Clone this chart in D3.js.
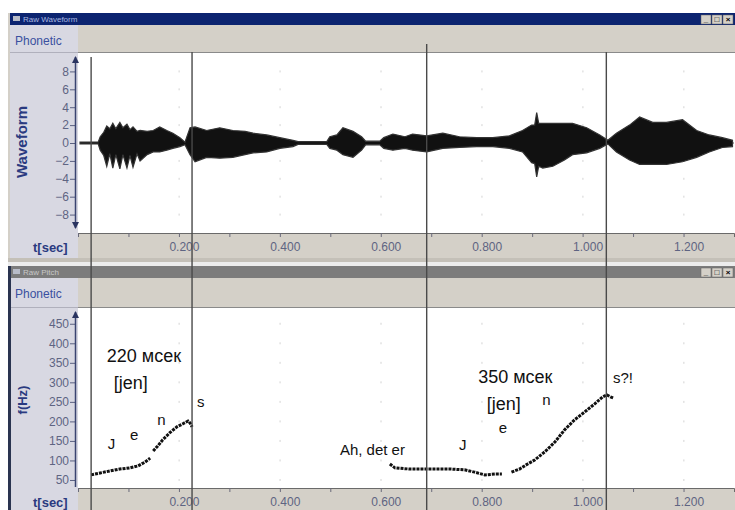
<!DOCTYPE html>
<html>
<head>
<meta charset="utf-8">
<script src="https://cdn.jsdelivr.net/npm/d3@7"></script>
<style>
 body { margin: 0; background: #fff; }
 text { font-family: "Liberation Sans", Arial, sans-serif; }
</style>
</head>
<body>
<script>
'use strict'
// Speech analysis screen: waveform on top, pitch track below, drawn with d3

// waveform envelope (time in sec, amplitude in axis units)
const waveTime = [0.004, 0.040, 0.044, 0.051, 0.057, 0.063, 0.069, 0.075, 0.083, 0.089, 0.097, 0.103, 0.109, 0.117, 0.123,
 0.137, 0.149, 0.162, 0.176, 0.188, 0.202, 0.212, 0.222, 0.232, 0.255, 0.281, 0.307, 0.331, 0.347, 0.374, 0.400, 0.426,
 0.436, 0.493, 0.499, 0.513, 0.525, 0.545, 0.562, 0.570, 0.598, 0.606, 0.624, 0.648, 0.663, 0.691, 0.723, 0.756, 0.790,
 0.822, 0.855, 0.881, 0.899, 0.905, 0.909, 0.913, 0.921, 0.941, 0.964, 0.980, 1.008, 1.034, 1.050, 1.067, 1.093, 1.113,
 1.139, 1.166, 1.198, 1.226, 1.251, 1.277, 1.297];
const waveUpper = [0.1, 0.1, 0.7, 1.2, 1.9, 1.6, 2.2, 1.6, 2.3, 1.7, 2.1, 1.5, 1.8, 1.3, 1.4,
 1.3, 1.4, 1.8, 1.4, 1.1, 0.6, 0.1, 1.7, 1.8, 1.4, 1.7, 1.4, 1.3, 1.1, 0.9, 0.6, 0.3,
 0.15, 0.15, 0.7, 0.9, 1.7, 1.3, 0.7, 0.2, 0.2, 0.6, 1.0, 0.7, 1.0, 0.8, 1.1, 0.7, 0.6,
 0.6, 0.8, 1.4, 2.0, 2.0, 3.4, 2.2, 2.2, 2.2, 2.2, 2.2, 1.7, 0.9, 0.3, 1.1, 2.0, 2.9,
 2.3, 2.3, 2.6, 1.4, 0.9, 0.6, 0.3];
const waveLower = [-0.1, -0.1, -0.8, -1.4, -2.6, -1.2, -2.8, -1.3, -2.9, -1.3, -2.8, -1.4, -2.7, -1.2, -2.0,
 -1.3, -1.0, -1.0, -0.8, -0.6, -0.4, -0.2, -1.3, -2.1, -1.6, -1.7, -1.6, -1.3, -1.1, -1.0, -0.6, -0.4,
 -0.15, -0.15, -0.6, -0.8, -1.3, -1.6, -0.8, -0.2, -0.2, -0.6, -0.8, -0.6, -0.8, -1.0, -0.6, -0.5, -0.4,
 -0.4, -0.6, -1.0, -2.2, -2.3, -3.8, -2.6, -2.8, -2.6, -1.9, -1.3, -1.1, -0.6, -0.1, -1.0, -1.9, -2.4,
 -2.4, -2.4, -2.1, -1.6, -1.0, -0.5, -0.4];

// pitch track (sec, Hz); NaN marks a break in the track
const pitchTime = [0.026, 0.044, 0.063, 0.083, 0.103, 0.119, 0.133, 0.143, 0.146, 0.149, 0.158, 0.168, 0.182, 0.196,
 0.208, 0.218, 0.222, 0.226, 0.4,
 0.618, 0.628, 0.657, 0.697, 0.737, 0.766, 0.786, 0.806, 0.826, 0.840, 0.850, 0.859, 0.875, 0.891, 0.905, 0.925,
 0.945, 0.964, 0.984, 1.004, 1.024, 1.040, 1.048, 1.055, 1.061];
const pitchHz = [63, 68, 73, 78, 81, 86, 96, 106, NaN, 124, 137, 153, 171, 186,
 194, 201, 196, 186, NaN,
 91, 81, 78, 78, 78, 76, 70, 63, 65, 65, NaN, 70, 78, 91, 101, 122,
 147, 178, 204, 224, 245, 263, 268, 263, 260];

// cursor lines (sec)
const cursorTime = [0.026, 0.226, 0.691, 1.047];

const waveTicks = [8, 6, 4, 2, 0, -2, -4, -6, -8];
const pitchTicks = [450, 400, 350, 300, 250, 200, 150, 100, 50];
const timeTicks = [0, 0.1, 0.2, 0.3, 0.4, 0.5, 0.6, 0.7, 0.8, 0.9, 1.0, 1.1, 1.2];
const timeLabels = ["", "", "0.200", "", "0.400", "", "0.600", "", "0.800", "", "1.000", "", "1.200"];

// annotations placed in data units (sec, Hz)
const bigNoteText = ["220 мсек", "[jen]", "350 мсек", "[jen]"];
const bigNoteTime = [0.057, 0.071, 0.793, 0.810];
const bigNoteHz = [352, 283, 298, 229];
const smallNoteText = ["s", "J", "e", "n", "Ah, det er", "J", "e", "n", "s?!"];
const smallNoteTime = [0.236, 0.059, 0.103, 0.157, 0.519, 0.755, 0.834, 0.920, 1.060];
const smallNoteHz = [237, 129, 152, 191, 114, 127, 170, 242, 298];

let svg = d3.select("body").append("svg")
 .attr("width", 735)
 .attr("height", 510);

let x = d3.scaleLinear().domain([0, 1.3]).range([78, 734]);
let yWave = d3.scaleLinear().domain([-9.5, 9.5]).range([228, 58]);
let yPitch = d3.scaleLinear().domain([32, 475]).range([487, 314]);

// one analysis window (title bar, phonetic band, plot, time axis)
function drawPanel(p) {
 let g = svg.append("g");
 g.append("rect").attr("x", 8).attr("y", p.top).attr("width", 727).attr("height", p.axisBottom - p.top).attr("fill", "#d4d0c8");
 g.append("rect").attr("x", 10).attr("y", p.titleTop).attr("width", 725).attr("height", p.titleBottom - p.titleTop).attr("fill", p.titleFill);
 g.append("rect").attr("x", 13).attr("y", p.titleTop + 3).attr("width", 7).attr("height", 5).attr("fill", "#b8bcc8");
 g.append("text").attr("x", 23).attr("y", p.titleTop + 8.5).attr("font-size", 8).attr("fill", p.titleText).text(p.title);
 ["_", "□", "×"].forEach((s, i) => {
  g.append("rect").attr("x", 701 + i * 11).attr("y", p.titleTop + 2).attr("width", 10).attr("height", p.titleBottom - p.titleTop - 3)
   .attr("fill", "#d4d0c8").attr("stroke", "#606060").attr("stroke-width", 0.5);
  g.append("text").attr("x", 706 + i * 11).attr("y", p.titleBottom - 3).attr("text-anchor", "middle")
   .attr("font-size", 8).attr("font-weight", "bold").attr("fill", "#000").text(s);
 });

 // left column and phonetic band
 g.append("rect").attr("x", 10).attr("y", p.bandTop).attr("width", 68).attr("height", p.axisBottom - p.bandTop).attr("fill", "#d8d8e2");
 g.append("rect").attr("x", 78).attr("y", p.bandTop).attr("width", 657).attr("height", p.plotTop - p.bandTop).attr("fill", "#d4d0c8");
 g.append("line").attr("x1", 78).attr("x2", 735).attr("y1", p.plotTop - 0.5).attr("y2", p.plotTop - 0.5).attr("stroke", "#8a8a8a");
 g.append("line").attr("x1", 10).attr("x2", 78).attr("y1", p.plotTop - 0.5).attr("y2", p.plotTop - 0.5).attr("stroke", "#b0b0bc");
 g.append("text").attr("x", 15).attr("y", p.bandTop + 20).attr("font-size", 12).attr("fill", "#3a50a0").text("Phonetic");

 // plot area
 g.append("rect").attr("x", 78).attr("y", p.plotTop).attr("width", 657).attr("height", p.plotBottom - p.plotTop).attr("fill", "#fff");

 // faint grid dots
 timeTicks.filter((t, i) => timeLabels[i] !== "").forEach(t => {
  p.ticks.forEach(v => {
   g.append("rect").attr("x", x(t) - 0.5).attr("y", p.y(v) - 1).attr("width", 1.5).attr("height", 2).attr("fill", "#e2e2e2");
  });
 });

 // time axis band
 g.append("rect").attr("x", 78).attr("y", p.plotBottom).attr("width", 657).attr("height", p.axisBottom - p.plotBottom).attr("fill", "#d4d0c8");
 let xAxis = d3.axisBottom(x).tickValues(timeTicks).tickSize(4).tickPadding(5)
  .tickFormat((d, i) => timeLabels[i]);
 let xg = g.append("g").attr("transform", "translate(0," + p.plotBottom + ")").call(xAxis);
 xg.select(".domain").attr("stroke", "#6a6a6a");
 xg.selectAll(".tick line").attr("stroke", "#6a6a7a");
 xg.selectAll(".tick text").attr("dx", 5).attr("font-size", 12).attr("fill", "#5e6482")
  .attr("font-family", "Liberation Sans, Arial, sans-serif");
 g.append("text").attr("x", 33).attr("y", p.plotBottom + 18.5).attr("font-size", 13).attr("font-weight", "bold")
  .attr("fill", "#2a3a80").text("t[sec]");

 // value axis with arrows
 let yAxis = d3.axisLeft(p.y).tickValues(p.ticks).tickSize(5).tickPadding(1).tickSizeOuter(0);
 let yg = g.append("g").attr("transform", "translate(75,0)").call(yAxis);
 yg.select(".domain").remove();
 yg.selectAll(".tick line").attr("stroke", "#5a6080");
 yg.selectAll(".tick text").attr("font-size", 12).attr("fill", "#5e6482")
  .attr("font-family", "Liberation Sans, Arial, sans-serif");
 g.append("line").attr("x1", 75.5).attr("x2", 75.5).attr("y1", p.arrowTop).attr("y2", p.arrowBottom)
  .attr("stroke", "#3a4470").attr("stroke-width", 1.5);
 g.append("path").attr("d", "M72," + (p.arrowTop + 6) + "L75.5," + (p.arrowTop - 1) + "L79," + (p.arrowTop + 6) + "Z").attr("fill", "#2a3460");
 if (p.arrowDown) {
  g.append("path").attr("d", "M72," + (p.arrowBottom - 6) + "L75.5," + (p.arrowBottom + 1) + "L79," + (p.arrowBottom - 6) + "Z").attr("fill", "#2a3460");
 }
 g.append("text").attr("transform", "translate(" + p.labelX + "," + p.labelY + ") rotate(-90)")
  .attr("text-anchor", "middle").attr("font-size", p.labelSize).attr("font-weight", "bold")
  .attr("fill", "#2a3a80").text(p.label);
 return g;
}

drawPanel({
 top: 13, titleTop: 13, titleBottom: 25, titleFill: "#0c2470", titleText: "#aab8e0", title: "Raw Waveform",
 bandTop: 25, plotTop: 53, plotBottom: 233, axisBottom: 258,
 y: yWave, ticks: waveTicks, arrowTop: 57, arrowBottom: 228, arrowDown: true,
 label: "Waveform", labelX: 27, labelY: 142, labelSize: 15
});

// light strip between the two windows
svg.append("rect").attr("x", 8).attr("y", 258).attr("width", 727).attr("height", 4).attr("fill", "#c4c0b8");

drawPanel({
 top: 262, titleTop: 266, titleBottom: 278, titleFill: "#7c7c7c", titleText: "#c8c8c8", title: "Raw Pitch",
 bandTop: 278, plotTop: 308, plotBottom: 488, axisBottom: 510,
 y: yPitch, ticks: pitchTicks, arrowTop: 312, arrowBottom: 487, arrowDown: false,
 label: "f(Hz)", labelX: 27, labelY: 400, labelSize: 13
});
svg.append("rect").attr("x", 8).attr("y", 266).attr("width", 3).attr("height", 244).attr("fill", "#2a3450");
svg.append("rect").attr("x", 8).attr("y", 262).attr("width", 727).attr("height", 4).attr("fill", "#ececec");

// waveform
let wave = svg.append("g");
wave.append("line").attr("x1", 80).attr("x2", 734).attr("y1", yWave(0)).attr("y2", yWave(0))
 .attr("stroke", "#555").attr("stroke-width", 1);
let area = d3.area()
 .x((d, i) => x(waveTime[i]))
 .y0((d, i) => yWave(waveLower[i]))
 .y1((d, i) => yWave(waveUpper[i]));
wave.append("path").attr("d", area(waveTime)).attr("fill", "#111")
 .attr("stroke", "#333").attr("stroke-width", 1.2).attr("stroke-linejoin", "miter");

// pitch track
let line = d3.line()
 .defined((d, i) => !isNaN(pitchHz[i]))
 .x((d, i) => x(pitchTime[i]))
 .y((d, i) => yPitch(pitchHz[i]));
svg.append("path").attr("d", line(pitchTime)).attr("fill", "none")
 .attr("stroke", "#111").attr("stroke-width", 3).attr("stroke-dasharray", "3,1");

// cursors
svg.selectAll(".cursor").data(cursorTime).enter().append("line")
 .attr("class", "cursor")
 .attr("x1", d => x(d)).attr("x2", d => x(d))
 .attr("y1", (d, i) => i === 2 ? 44 : (i === 0 ? 57 : 52)).attr("y2", 510)
 .attr("stroke", "#4a4a4a").attr("stroke-width", 1.4);

// annotations
bigNoteText.forEach((s, i) => {
 svg.append("text").attr("x", x(bigNoteTime[i])).attr("y", yPitch(bigNoteHz[i]))
  .attr("font-size", 18).attr("fill", "#111").text(s);
});
smallNoteText.forEach((s, i) => {
 svg.append("text").attr("x", x(smallNoteTime[i])).attr("y", yPitch(smallNoteHz[i]))
  .attr("font-size", 15).attr("fill", "#111").text(s);
});
</script>
</body>
</html>
